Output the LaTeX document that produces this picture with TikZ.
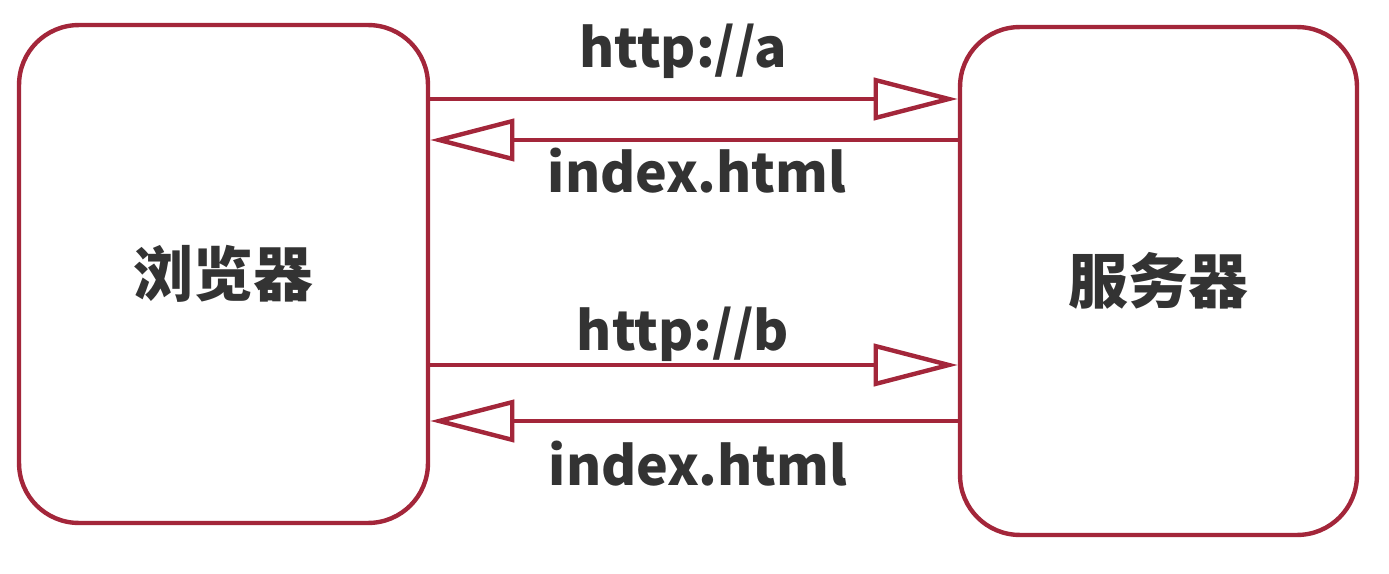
\documentclass[tikz,border=0pt]{standalone}
\usepackage{fontspec}
\setmainfont{Noto Sans CJK SC}
\usetikzlibrary{arrows.meta,positioning}
\definecolor{boxred}{RGB}{163,38,58}
\definecolor{txtgray}{RGB}{51,51,51}

\begin{document}
\begin{tikzpicture}[x=0.02cm,y=-0.02cm,
    every node/.style={font=\fontsize{30.5}{36}\selectfont\bfseries,text=txtgray},
    endbox/.style={draw=boxred,line width=2.5pt,rounded corners=34pt,fill=white,
      font=\fontsize{34}{40}\selectfont\bfseries},
    flow/.style={draw=boxred,line width=2.5pt,
      -{Triangle[open,length=48pt,width=24pt,fill=white]}}]
      \useasboundingbox (0,0) rectangle (1389,574);
      % Browser and server
      \node[endbox,minimum width=8.18cm,minimum height=9.96cm] (browser) at (223.5,274) {浏览器};
      \node[endbox,minimum width=7.94cm,minimum height=10.16cm] (server) at (1158.5,281) {服务器};
      % Levels of the arrows
      \coordinate (ya) at (0,99);
      \coordinate (yai) at (0,140);
      \coordinate (yb) at (0,365);
      \coordinate (ybi) at (0,421);
      % Requests and answers
      \draw[flow] (browser.east |- ya) -- (server.west |- ya);
      \draw[flow] (server.west |- yai) -- (browser.east |- yai);
      \draw[flow] (browser.east |- yb) -- (server.west |- yb);
      \draw[flow] (server.west |- ybi) -- (browser.east |- ybi);
      % Labels
      \node[anchor=base] (reqa) at (683,68) {http://a};
      \node[anchor=base] (resa) at (697,193) {index.html};
      \node[anchor=base] (reqb) at (683,350) {http://b};
      \node[anchor=base] (resb) at (698,485) {index.html};
    \end{tikzpicture}
\end{document}
